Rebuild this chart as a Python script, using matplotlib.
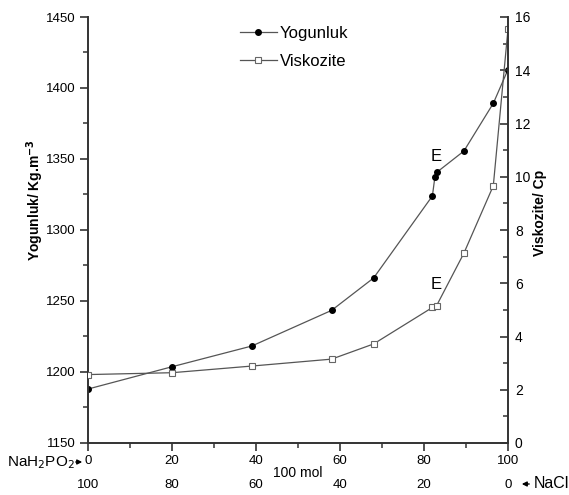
import matplotlib
matplotlib.use("Agg")
import matplotlib.pyplot as plt
from matplotlib.ticker import MultipleLocator
from matplotlib import font_manager

# ---- data ----
dens_x = [0, 20, 39, 58, 68, 82, 82.6, 83.2, 89.5, 96.5, 100]
dens_y = [1188, 1203.7, 1218.3, 1243.4, 1266.2, 1324, 1337.5, 1341, 1355.6, 1389.2, 1413]
visc_x = [0, 20, 39, 58, 68, 82, 83, 89.5, 96.5, 100]
visc_y = [2.57, 2.64, 2.89, 3.15, 3.72, 5.09, 5.16, 7.13, 9.66, 15.55]
x_ticks = [0, 20, 40, 60, 80, 100]
x_labels_top = ["0", "20", "40", "60", "80", "100"]
x_labels_bottom = ["100", "80", "60", "40", "20", "0"]

names = {f.name for f in font_manager.fontManager.ttflist}
narrow = "Liberation Sans Narrow" if "Liberation Sans Narrow" in names else "Liberation Sans"
plt.rcParams['font.family'] = [narrow, 'DejaVu Sans']

W, H = 569, 495
fig = plt.figure(figsize=(W / 100, H / 100), dpi=100)
ax = fig.add_axes([88 / W, 1 - 443 / H, (508 - 88) / W, (443 - 17) / H])
ax2 = ax.twinx()

axc = '#333333'
lc = '#555555'

l1, = ax.plot(dens_x, dens_y, '-', color=lc, lw=0.9, marker='o', ms=4,
              mfc='black', mec='black', label='Yogunluk')
l2, = ax2.plot(visc_x, visc_y, '-', color=lc, lw=0.9, marker='s', ms=4,
               mfc='white', mec='#666666', mew=0.8, label='Viskozite')

ax.set_xlim(0, 100)
ax.set_ylim(1150, 1450)
ax2.set_ylim(0, 16)

for a in (ax, ax2):
    a.spines['top'].set_visible(False)
    for s in a.spines.values():
        s.set_color(axc)
        s.set_linewidth(1.4)
ax.spines['right'].set_visible(False)
ax2.spines['left'].set_visible(False)
ax2.spines['bottom'].set_visible(False)

ax.xaxis.set_major_locator(MultipleLocator(20))
ax.xaxis.set_minor_locator(MultipleLocator(10))
ax.yaxis.set_major_locator(MultipleLocator(50))
ax.yaxis.set_minor_locator(MultipleLocator(25))
ax2.yaxis.set_major_locator(MultipleLocator(2))
ax2.yaxis.set_minor_locator(MultipleLocator(1))

ax.tick_params(axis='both', which='major', direction='out', length=6, width=1.2,
               color=axc, labelsize=9.5, pad=3)
ax.tick_params(axis='both', which='minor', direction='out', length=3.5, width=1.1, color=axc)
ax2.tick_params(axis='y', which='major', direction='in', length=6, width=1.2,
                color=axc, labelsize=10, pad=5)
ax2.tick_params(axis='y', which='minor', direction='in', length=3.5, width=1.1, color=axc)

ax.set_xticks(x_ticks)
ax.set_xticklabels(x_labels_top)
for xv, lab in zip(x_ticks, x_labels_bottom):
    ax.text(xv, -0.098, lab, transform=ax.get_xaxis_transform(), ha='center',
            va='center', fontsize=9.5)

ax.text(50, -0.07, "100 mol", transform=ax.get_xaxis_transform(), ha='center',
        va='center', fontsize=10)

# axis labels
fig.text(35 / W, 1 - 200 / H, r"Yogunluk/ Kg.m$^{\mathbf{-3}}$", rotation=90,
         ha='center', va='center', fontsize=10, fontweight='bold',
         family=['Liberation Sans', 'DejaVu Sans'])
fig.text(540 / W, 1 - 213 / H, "Viskozite/ Cp", rotation=90, ha='center',
         va='center', fontsize=10, fontweight='bold',
         family=['Liberation Sans', 'DejaVu Sans'])

# E labels
ax.text(83, 1352, "E", ha='center', va='center', fontsize=12,
        family=['Liberation Sans', 'DejaVu Sans'])
ax2.text(83, 5.95, "E", ha='center', va='center', fontsize=12,
         family=['Liberation Sans', 'DejaVu Sans'])

# component labels with arrows
fig.text(7 / W, 1 - 463 / H, r"NaH$_2$PO$_2$", ha='left', va='center', fontsize=11)
fig.add_artist(matplotlib.patches.FancyArrowPatch(
    (73 / W, 1 - 462 / H), (85 / W, 1 - 462 / H), transform=fig.transFigure,
    arrowstyle='-|>', mutation_scale=7, color='black', lw=1))
fig.add_artist(matplotlib.patches.FancyArrowPatch(
    (532 / W, 1 - 484 / H), (519 / W, 1 - 484 / H), transform=fig.transFigure,
    arrowstyle='-|>', mutation_scale=7, color='black', lw=1))
fig.text(534 / W, 1 - 483 / H, "NaCl", ha='left', va='center', fontsize=11.5)

# legend
fig.legend(handles=[l1, l2], loc='upper left', bbox_to_anchor=(240 / W, 1 - 26 / H),
           frameon=False, fontsize=12, handlelength=2.2, handletextpad=0.2,
           labelspacing=0.75, borderaxespad=0, borderpad=0)

fig.savefig("out.png", dpi=100)
